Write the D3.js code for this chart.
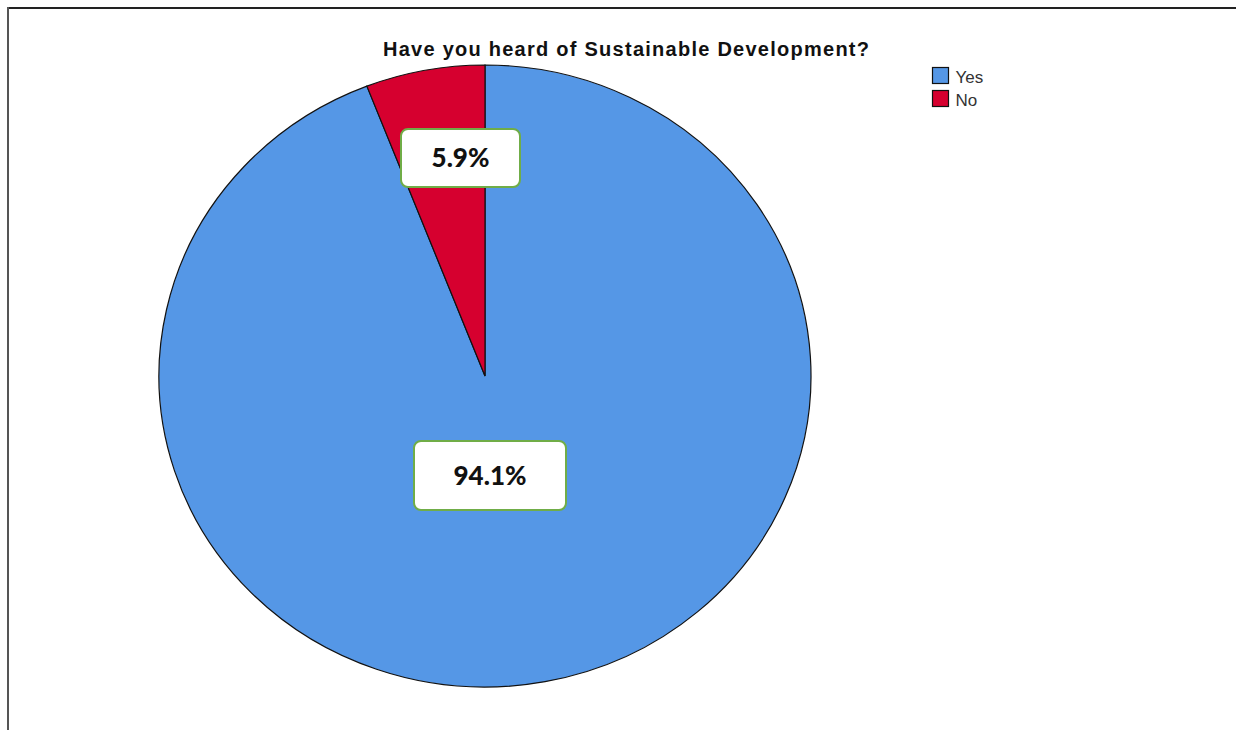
<!DOCTYPE html>
<html>
<head>
<meta charset="utf-8">
<script src="https://cdn.jsdelivr.net/npm/d3@7"></script>
<style>
  body { margin: 0; background: #fff; }
  svg { display: block; }
</style>
</head>
<body>
<div id="main"></div>
<script>
const categories = ['Yes', 'No'];
const percents = [94.1, 5.9];
const colors = ['#5597e6', '#d6002f'];
const title = 'Have you heard of Sustainable Development?';

const w = 1236, h = 730;
const cx = 485, cy = 376, ry = 311, rx = 326;

const svg = d3.select('#main')
    .append('svg')
    .attr('width', w)
    .attr('height', h);

// frame
svg.append('line').attr('x1', 7).attr('x2', w).attr('y1', 8).attr('y2', 8)
    .attr('stroke', '#222').attr('stroke-width', 2);
svg.append('line').attr('x1', 8).attr('x2', 8).attr('y1', 7).attr('y2', h)
    .attr('stroke', '#555').attr('stroke-width', 2);

svg.append('text')
    .text(title)
    .attr('x', 626)
    .attr('y', 56)
    .attr('text-anchor', 'middle')
    .attr('font-family', 'Liberation Sans, Arial, sans-serif')
    .attr('font-weight', 'bold')
    .attr('font-size', 20)
    .attr('textLength', 486)
    .attr('lengthAdjust', 'spacing')
    .attr('fill', '#111');

const data = categories.map((c, i) => ({ cat: c, value: percents[i], color: colors[i] }));

const pie = d3.pie().sort(null).value(d => d.value);
const arc = d3.arc().innerRadius(0).outerRadius(ry);

// pie is slightly wider than tall in the reference
const g = svg.append('g')
    .attr('transform', `translate(${cx},${cy}) scale(${rx / ry},1)`);

g.selectAll('path')
    .data(pie(data))
    .enter()
    .append('path')
    .attr('d', arc)
    .attr('fill', d => d.data.color)
    .attr('stroke', '#111')
    .attr('stroke-width', 1.2)
    .attr('vector-effect', 'non-scaling-stroke');

// label boxes (placement as SPSS put them)
const labelBoxes = [
    { x: 414, y: 441, bw: 152, bh: 69 },
    { x: 401, y: 129, bw: 119, bh: 58 }
];

const labels = svg.selectAll('.lbl')
    .data(data)
    .enter()
    .append('g')
    .attr('class', 'lbl');

labels.append('rect')
    .attr('x', (d, i) => labelBoxes[i].x)
    .attr('y', (d, i) => labelBoxes[i].y)
    .attr('width', (d, i) => labelBoxes[i].bw)
    .attr('height', (d, i) => labelBoxes[i].bh)
    .attr('rx', 7)
    .attr('fill', '#fff')
    .attr('stroke', '#70ad47')
    .attr('stroke-width', 2);

labels.append('text')
    .text(d => d3.format('.1f')(d.value) + '%')
    .attr('x', (d, i) => labelBoxes[i].x + labelBoxes[i].bw / 2)
    .attr('y', (d, i) => labelBoxes[i].y + labelBoxes[i].bh / 2)
    .attr('dy', '0.36em')
    .attr('text-anchor', 'middle')
    .attr('font-family', 'Lato, Open Sans, sans-serif')
    .attr('font-weight', 900)
    .attr('font-size', 26)
    .attr('fill', '#111');

// legend
const legend = svg.selectAll('.legend')
    .data(data)
    .enter()
    .append('g')
    .attr('class', 'legend')
    .attr('transform', (d, i) => `translate(932.5,${67.5 + i * 23})`);

legend.append('rect')
    .attr('width', 16)
    .attr('height', 16)
    .attr('fill', d => d.color)
    .attr('stroke', '#111')
    .attr('stroke-width', 1.2);

legend.append('text')
    .text(d => d.cat)
    .attr('x', 23)
    .attr('y', 15)
    .attr('font-family', 'Liberation Sans, Arial, sans-serif')
    .attr('font-size', 17)
    .attr('fill', '#333');
</script>
</body>
</html>
